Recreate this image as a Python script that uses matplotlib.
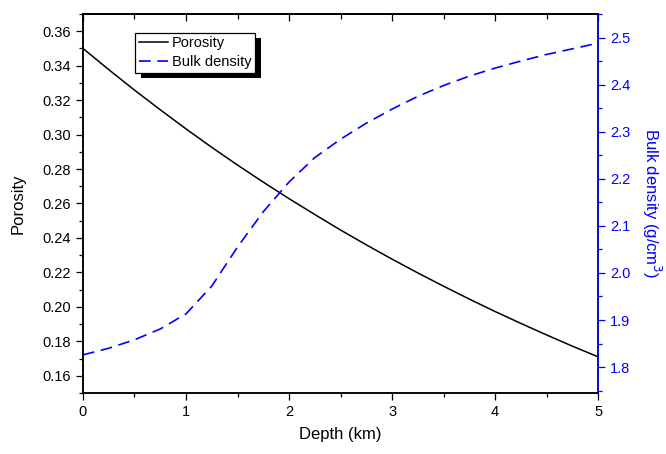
import numpy as np
import matplotlib.pyplot as plt
from matplotlib.ticker import MultipleLocator, FormatStrFormatter
from matplotlib.patches import Rectangle
from matplotlib.transforms import IdentityTransform

plt.rcParams['font.family'] = ['Liberation Sans', 'DejaVu Sans']

# values
depth = [0, 0.25, 0.5, 0.75, 1.0, 1.25, 1.5, 1.75, 2.0, 2.25, 2.5,
         2.75, 3.0, 3.25, 3.5, 3.75, 4.0, 4.25, 4.5, 4.75, 5.0]
porosity = [0.3500, 0.3377, 0.3258, 0.3144, 0.3033, 0.2926, 0.2823, 0.2724, 0.2628, 0.2536, 0.2446,
            0.2360, 0.2277, 0.2197, 0.2120, 0.2045, 0.1973, 0.1904, 0.1837, 0.1772, 0.1710]
bulk_density = [1.826, 1.840, 1.858, 1.881, 1.913, 1.972, 2.055, 2.130, 2.193, 2.245, 2.284,
                2.318, 2.348, 2.375, 2.398, 2.418, 2.435, 2.450, 2.464, 2.476, 2.488]

fig = plt.figure(figsize=(6.66, 4.54), dpi=100)
ax = fig.add_axes([0.1246, 0.1344, 0.7734, 0.8348])
ax2 = ax.twinx()

l1, = ax.plot(depth, porosity, color='k', lw=1.1, label='Porosity')
l2, = ax2.plot(depth, bulk_density, color='blue', lw=1.2, dashes=(7, 4), label='Bulk density')

ax.set_xlim(0, 5)
ax.set_ylim(0.15, 0.37)
ax2.set_ylim(1.745, 2.55)

ax.xaxis.set_major_locator(MultipleLocator(1))
ax.xaxis.set_minor_locator(MultipleLocator(0.5))
ax.yaxis.set_major_locator(MultipleLocator(0.02))
ax.yaxis.set_minor_locator(MultipleLocator(0.01))
ax.yaxis.set_major_formatter(FormatStrFormatter('%.2f'))
ax2.yaxis.set_major_locator(MultipleLocator(0.1))
ax2.yaxis.set_minor_locator(MultipleLocator(0.05))
ax2.yaxis.set_major_formatter(FormatStrFormatter('%.1f'))

for a in (ax, ax2):
    for s in a.spines.values():
        s.set_linewidth(1.1)
ax2.spines['right'].set_color('blue')

ax.tick_params(which='major', direction='out', length=5, width=0.9, labelsize=10.5)
ax.tick_params(which='minor', direction='out', length=3, width=0.9)
ax2.tick_params(which='major', direction='out', length=5, width=0.9, labelsize=10.5,
                colors='blue')
ax2.tick_params(which='minor', direction='out', length=3, width=0.9, colors='blue')

# top axis: inward ticks, no labels
top = ax.secondary_xaxis('top')
top.xaxis.set_major_locator(MultipleLocator(1))
top.xaxis.set_minor_locator(MultipleLocator(0.5))
top.tick_params(which='major', direction='in', length=5, width=0.9, labeltop=False)
top.tick_params(which='minor', direction='in', length=3.5, width=0.9)
top.spines['top'].set_linewidth(1.1)

ax.set_xlabel('Depth (km)', fontsize=12, labelpad=6)
ax.set_ylabel('Porosity', fontsize=12, labelpad=12)
ax2.set_ylabel('Bulk density (g/cm$^3$)', fontsize=12, color='blue', rotation=270, labelpad=24)

leg = ax2.legend(handles=[l1, l2], loc='upper left', bbox_to_anchor=(0.101, 0.951),
                 borderaxespad=0, fancybox=False, fontsize=10.5, handlelength=2.0,
                 handletextpad=0.3, labelspacing=0.35, borderpad=0.25, framealpha=1)
leg.get_frame().set_edgecolor('k')
leg.get_frame().set_linewidth(0.9)
leg.set_zorder(5)

fig.canvas.draw()
bb = leg.get_frame().get_window_extent()
shadow = Rectangle((bb.x0 + 6, bb.y0 - 5), bb.width, bb.height, transform=IdentityTransform(),
                   facecolor='k', edgecolor='none', zorder=4.9, clip_on=False)
ax2.add_artist(shadow)

fig.savefig('out.png', dpi=100)
